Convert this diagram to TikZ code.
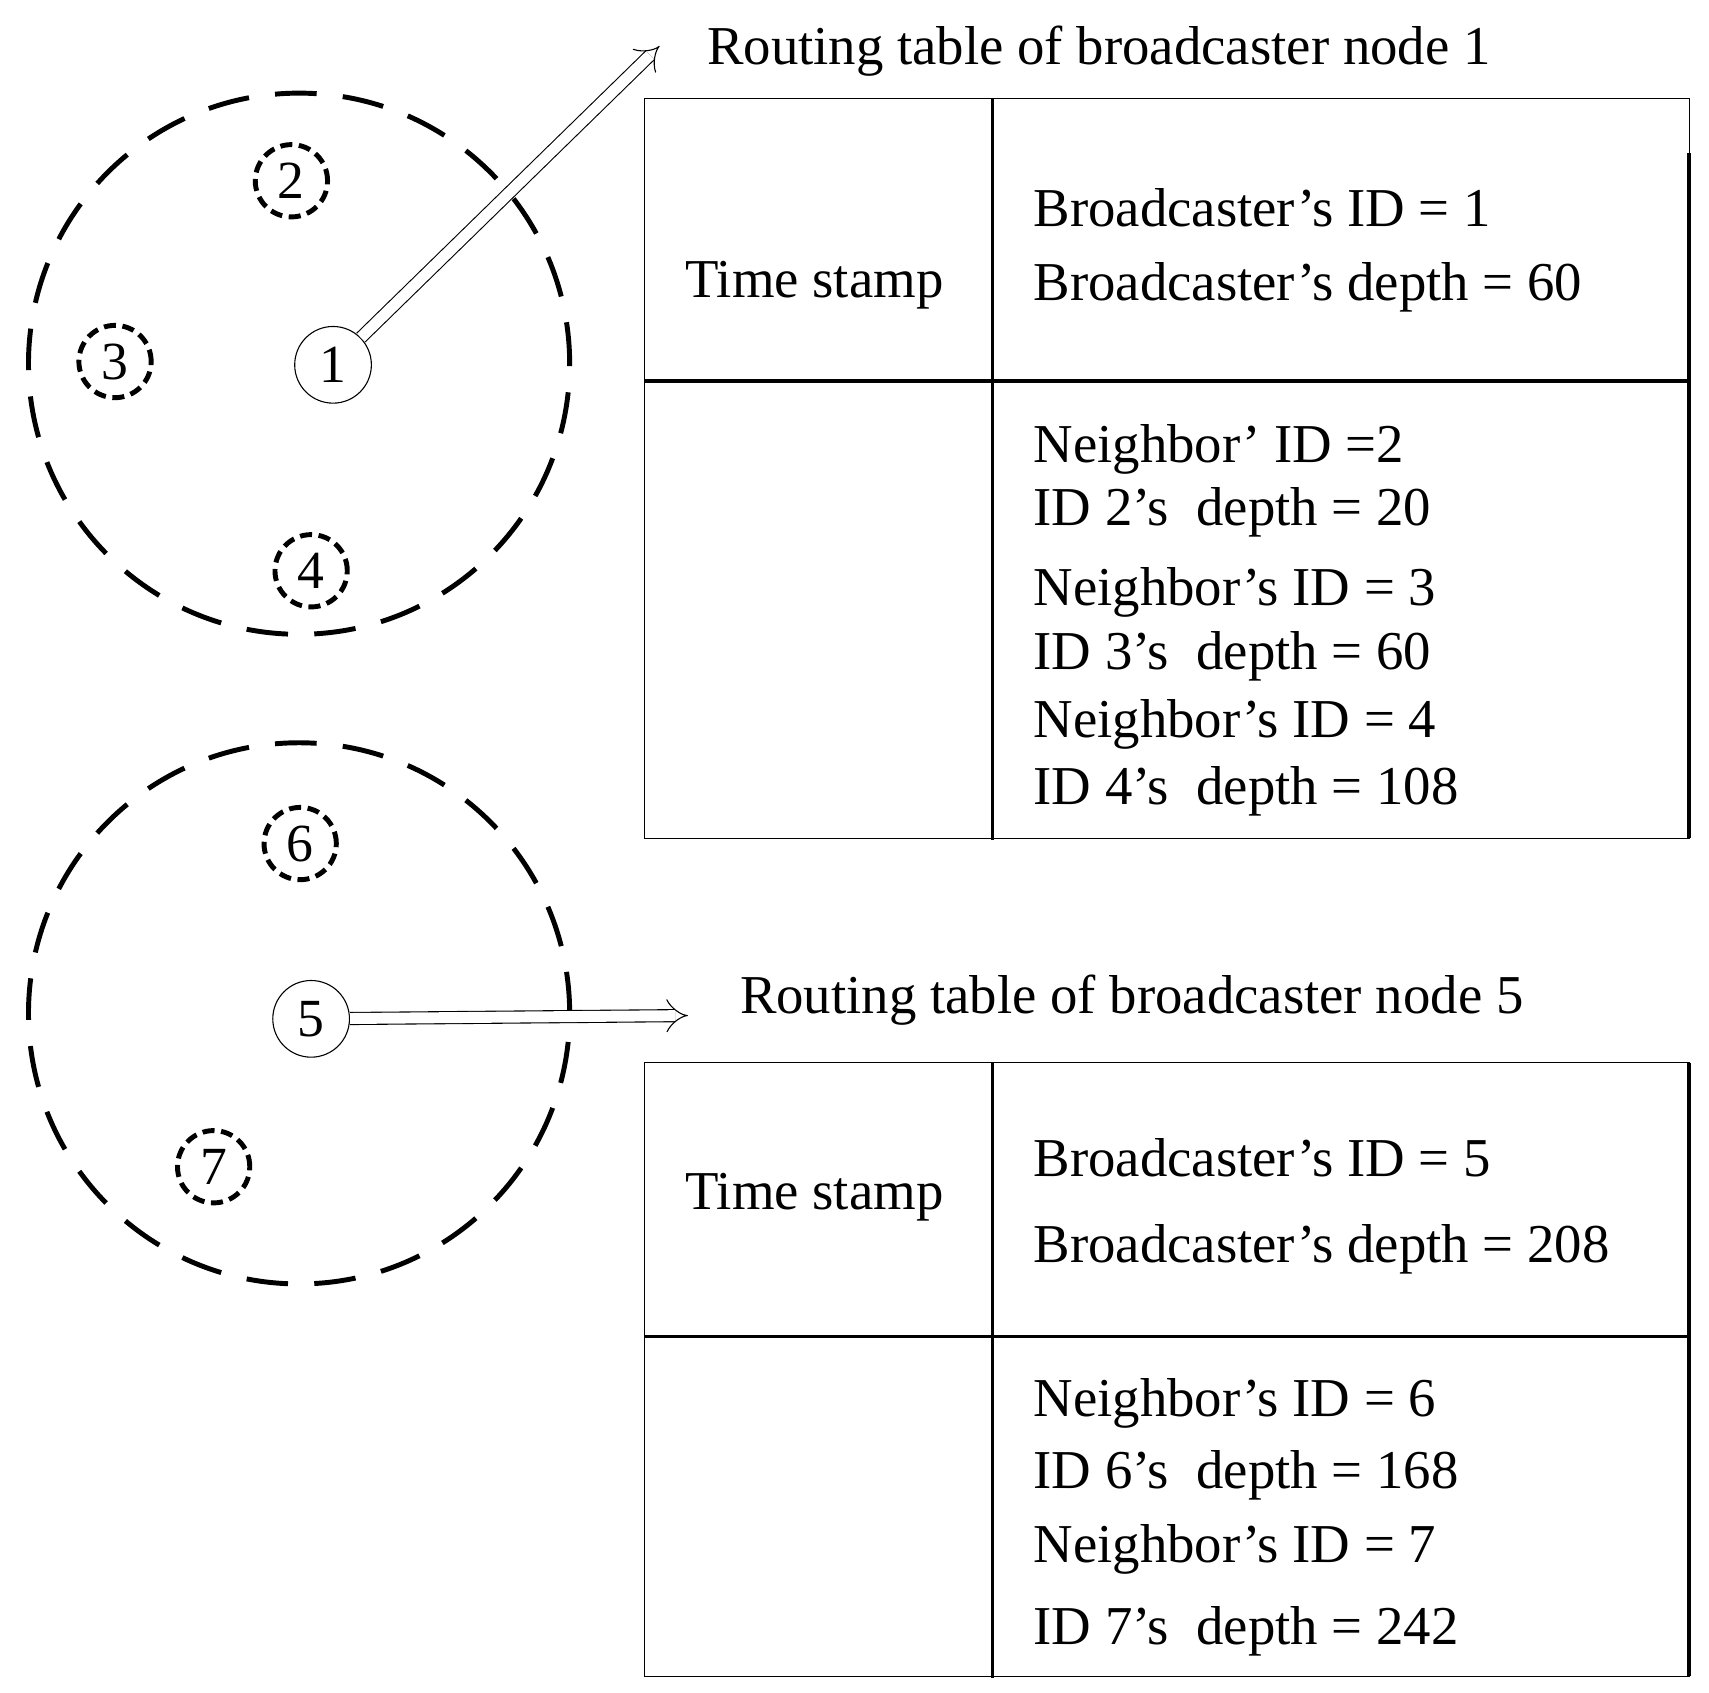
\documentclass[tikz,border=0pt]{standalone}
\usepackage{fontspec}
\setmainfont{Liberation Serif}
\usetikzlibrary{arrows.meta}
\tikzset{every picture/.style={line width=1pt}}
\tikzset{
  cover/.style={draw, circle, line width=4.5pt, dash pattern=on 38pt off 24pt},
  nbr/.style={draw, circle, line width=4.5pt, dash pattern=on 11pt off 6pt, minimum size=66pt, inner sep=0pt, font=\fontsize{49}{53}\selectfont},
  src/.style={draw, circle, line width=1pt, minimum size=70pt, inner sep=0pt, font=\fontsize{49}{53}\selectfont},
  txt/.style={anchor=west, inner sep=0pt, font=\fontsize{50}{54}\selectfont},
  hollow/.style={double, double distance=10pt, line width=1pt, -{Implies[length=28pt]}},
  sep/.style={line width=3.5pt}
}
\newcommand{\apo}{\char39}
\begin{document}
\begin{tikzpicture}[x=1pt,y=1pt,yscale=-1]
\useasboundingbox (0,0) rectangle (1560,1545);

%ranges
\node[cover, minimum size=494pt] (r1) at (273,332) {};
\node[cover, minimum size=494pt] (r5) at (273,925) {};

%nodes
\node[src] (n1) at (304,333) {1};
\node[nbr] (n2) at (266,165) {2};
\node[nbr] (n3) at (105,330) {3};
\node[nbr] (n4) at (284,521) {4};
\node[src] (n5) at (284,930) {5};
\node[nbr] (n6) at (274,770) {6};
\node[nbr] (n7) at (195,1065) {7};

%arrows
\coordinate (t1) at (602,42);
\coordinate (t5) at (628,927);
\draw[hollow] (n1) -- (t1);
\draw[hollow] (n5) -- (t5);

%titles
\node[txt] (h1) at (645,47) {Routing table of broadcaster node 1};
\node[txt] (h5) at (675,913) {Routing table of broadcaster node 5};

%table 1
\draw (588,90) rectangle (1542,765);
\draw[sep] (906,90) -- (906,767);
\draw[sep] (588,348) -- (1542,348);
\draw[sep] (1542,140) -- (1542,765);
\node[txt] (ts1) at (625,260) {Time stamp};
\node[txt] at (943,190) {Broadcaster’s ID = 1};
\node[txt] at (943,262) {Broadcaster’s depth = 60};
\node[txt] at (943,410) {Neighbor’ ID =2};
\node[txt] at (943,468) {ID 2\apo s\ \ depth = 20};
\node[txt] at (943,541) {Neighbor’s ID = 3};
\node[txt] at (943,599) {ID 3\apo s\ \ depth = 60};
\node[txt] at (943,661) {Neighbor’s ID = 4};
\node[txt] at (943,722) {ID 4\apo s\ \ depth = 108};

%table 5
\draw (588,970) rectangle (1542,1530);
\draw[sep] (906,970) -- (906,1532);
\draw[sep] (588,1220) -- (1542,1220);
\draw[sep] (1542,970) -- (1542,1530);
\node[txt] (ts5) at (625,1093) {Time stamp};
\node[txt] at (943,1057) {Broadcaster’s ID = 5};
\node[txt] at (943,1140) {Broadcaster’s depth = 208};
\node[txt] at (943,1281) {Neighbor’s ID = 6};
\node[txt] at (943,1347) {ID 6\apo s\ \ depth = 168};
\node[txt] at (943,1414) {Neighbor’s ID = 7};
\node[txt] at (943,1489) {ID 7\apo s\ \ depth = 242};
\end{tikzpicture}
\end{document}
